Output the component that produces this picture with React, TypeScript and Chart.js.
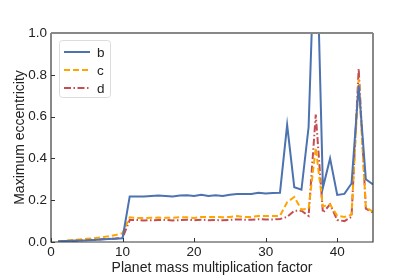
import React, { useEffect, useRef } from "react";
import { Chart, registerables } from "chart.js";

Chart.register(...registerables);

const massFactor = [1,2,3,4,5,6,7,8,9,10,11,12,13,14,15,16,17,18,19,20,21,22,23,24,25,26,27,28,29,30,31,32,33,34,35,36,37,38,39,40,41,42,43,44,45];

const eccB = [0.003,0.005,0.006,0.007,0.008,0.010,0.012,0.014,0.016,0.018,0.218,0.218,0.218,0.220,0.222,0.220,0.218,0.222,0.224,0.220,0.226,0.220,0.224,0.220,0.226,0.230,0.230,0.230,0.236,0.232,0.235,0.236,0.560,0.262,0.250,0.550,1.600,0.260,0.400,0.225,0.230,0.280,0.750,0.300,0.275];

const eccC = [0.002,0.006,0.009,0.012,0.015,0.018,0.022,0.027,0.033,0.042,0.118,0.115,0.115,0.116,0.117,0.116,0.116,0.118,0.118,0.115,0.120,0.120,0.120,0.118,0.120,0.124,0.120,0.120,0.124,0.124,0.124,0.125,0.190,0.215,0.155,0.160,0.450,0.170,0.180,0.125,0.120,0.130,0.780,0.165,0.145];

const eccD = [0.001,0.003,0.005,0.007,0.009,0.011,0.013,0.015,0.017,0.020,0.105,0.105,0.103,0.104,0.105,0.106,0.103,0.105,0.107,0.104,0.107,0.104,0.105,0.104,0.106,0.108,0.107,0.106,0.109,0.108,0.108,0.110,0.120,0.150,0.150,0.125,0.610,0.140,0.180,0.105,0.100,0.120,0.830,0.160,0.140];

const seriesLabels = ["b", "c", "d"];
const xTicks = [0, 10, 20, 30, 40];
const yTicks = [0, 0.2, 0.4, 0.6, 0.8, 1.0];

const FONT = "'Liberation Sans', Arial, sans-serif";

const framePlugin = {
  id: "frame",
  afterDatasetsDraw(chart: any) {
    const { ctx, chartArea: a, scales } = chart;
    ctx.save();
    ctx.strokeStyle = "#333";
    ctx.lineWidth = 1;
    for (const v of xTicks) {
      const px = Math.round(scales.x.getPixelForValue(v)) + 0.5;
      ctx.beginPath();
      ctx.moveTo(px, a.bottom);
      ctx.lineTo(px, a.bottom - 4);
      ctx.stroke();
    }
    for (const v of yTicks) {
      const py = Math.round(scales.y.getPixelForValue(v)) + 0.5;
      ctx.beginPath();
      ctx.moveTo(a.left, py);
      ctx.lineTo(a.left + 4, py);
      ctx.stroke();
    }
    ctx.strokeStyle = "#3a3a3a";
    ctx.lineWidth = 1.2;
    ctx.beginPath();
    ctx.moveTo(a.left, a.top);
    ctx.lineTo(a.left, a.bottom);
    ctx.lineTo(a.right, a.bottom);
    ctx.lineTo(a.right, a.top);
    ctx.stroke();
    ctx.strokeStyle = "#888";
    ctx.lineWidth = 2;
    ctx.beginPath();
    ctx.moveTo(a.left, a.top);
    ctx.lineTo(a.right, a.top);
    ctx.stroke();

    const bx = a.left + 8, by = a.top + 7, bw = 51, bh = 57;
    ctx.fillStyle = "rgba(255,255,255,0.85)";
    ctx.strokeStyle = "#dcdcdc";
    ctx.lineWidth = 1;
    ctx.beginPath();
    if ((ctx as any).roundRect) (ctx as any).roundRect(bx + 0.5, by + 0.5, bw, bh, 3);
    else ctx.rect(bx + 0.5, by + 0.5, bw, bh);
    ctx.fill();
    ctx.stroke();
    chart.data.datasets.forEach((ds: any, i: number) => {
      const ly = by + 12 + i * 18;
      ctx.strokeStyle = ds.borderColor;
      ctx.lineWidth = ds.borderWidth;
      ctx.setLineDash(ds.borderDash || []);
      ctx.beginPath();
      ctx.moveTo(bx + 5, ly);
      ctx.lineTo(bx + 31, ly);
      ctx.stroke();
      ctx.setLineDash([]);
      ctx.fillStyle = "#222";
      ctx.font = `13.5px ${FONT}`;
      ctx.textBaseline = "middle";
      ctx.textAlign = "left";
      ctx.fillText(ds.label, bx + 38, ly + 1);
    });
    ctx.restore();
  },
};

export default function App() {
  const ref = useRef<HTMLCanvasElement | null>(null);
  useEffect(() => {
    if (!ref.current) return;
    const chart = new Chart(ref.current, {
      type: "line",
      data: {
        labels: massFactor,
        datasets: [
          { label: seriesLabels[0], data: eccB, borderColor: "#4C72B0", borderWidth: 2, pointRadius: 0, tension: 0 },
          { label: seriesLabels[1], data: eccC, borderColor: "#FFA500", borderWidth: 2, borderDash: [6, 3], pointRadius: 0, tension: 0 },
          { label: seriesLabels[2], data: eccD, borderColor: "#C44E52", borderWidth: 2, borderDash: [7, 2.5, 1.5, 2.5], pointRadius: 0, tension: 0 },
        ].map((d) => ({ ...d, data: d.data.map((y, i) => ({ x: massFactor[i], y })) })),
      },
      options: {
        animation: false,
        responsive: false,
        maintainAspectRatio: false,
        layout: { padding: { top: 33, right: 42, left: 0, bottom: 0 } },
        plugins: { legend: { display: false }, tooltip: { enabled: false } },
        scales: {
          x: {
            type: "linear",
            min: 0,
            max: 45,
            afterBuildTicks: (s: any) => { s.ticks = xTicks.map((v) => ({ value: v })); },
            afterFit: (s: any) => { s.height = 35; },
            grid: { display: false, drawTicks: false },
            border: { display: false },
            ticks: { padding: 2, color: "#222", font: { family: FONT, size: 13.5 }, maxRotation: 0 },
            title: { display: true, text: "Planet mass multiplication factor", color: "#222", font: { family: FONT, size: 14 }, padding: { top: 0, bottom: 0 } },
          },
          y: {
            min: 0,
            max: 1,
            afterBuildTicks: (s: any) => { s.ticks = yTicks.map((v) => ({ value: v })); },
            afterFit: (s: any) => { s.width = 51; },
            grid: { display: false, drawTicks: false },
            border: { display: false },
            ticks: { padding: 4, color: "#222", font: { family: FONT, size: 13.5 }, callback: (v: any) => Number(v).toFixed(1) },
            title: { display: true, text: "Maximum eccentricity", color: "#222", font: { family: FONT, size: 14 }, padding: { top: 12, bottom: 0 } },
          },
        },
      },
      plugins: [framePlugin],
    });
    return () => chart.destroy();
  }, []);
  return (
    <div style={{ position: "fixed", left: 0, top: 0, width: 415, height: 277, background: "#fff" }}>
      <canvas ref={ref} width={415} height={277} style={{ width: 415, height: 277 }} />
    </div>
  );
}
